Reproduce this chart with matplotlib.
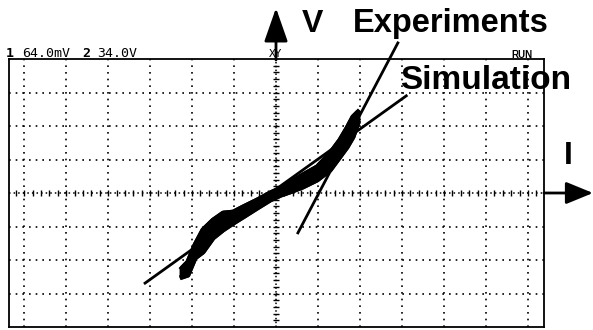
import numpy as np
import matplotlib
matplotlib.use("Agg")
import matplotlib.pyplot as plt
from matplotlib.transforms import Affine2D

# measured trace (oscilloscope divisions): current I on x, voltage V on y
exp_I = [-2.24, -2.10, -1.93, -1.74, -1.50, -1.26, -1.02, -0.79, -0.45, -0.14,
         0.12, 0.33, 0.64, 0.98, 1.29, 1.52, 1.69, 1.83, 1.95]
exp_V_upper = [-2.24, -2.06, -1.55, -1.10, -0.81, -0.60, -0.57, -0.42, -0.21, 0.00,
               0.15, 0.30, 0.54, 0.78, 1.19, 1.58, 1.94, 2.27, 2.42]
exp_V_lower = [-2.51, -2.45, -1.94, -1.76, -1.34, -1.10, -0.90, -0.72, -0.45, -0.21,
               -0.06, 0.03, 0.18, 0.39, 0.69, 1.08, 1.37, 1.67, 2.09]

# simulated characteristic (straight line)
sim_I = [-3.12, 3.10]
sim_V = [-2.69, 2.90]

# pointer line from the "Experiments" label
ptr_I = [2.90, 0.52]
ptr_V = [4.48, -1.19]

W, H = 593, 330
fig = plt.figure(figsize=(W / 100, H / 100), dpi=100)
ax = fig.add_axes([9 / W, 3 / H, 535 / W, 268 / H])
ax.set_xlim(-6.36, 6.38)
ax.set_ylim(-4, 4)
ax.set_xticks([])
ax.set_yticks([])
for s in ax.spines.values():
    s.set_linewidth(1.3)
    s.set_color("black")

# pixel coords of the picture (origin top-left)
px = Affine2D().scale(1 / W, -1 / H).translate(0, 1) + fig.transFigure

# graticule
dots = (0, (1, 3))
for x in range(-6, 7):
    if x != 0:
        ax.axvline(x, color="black", lw=1.2, ls=dots)
for y in range(-3, 4):
    if y != 0:
        ax.axhline(y, color="black", lw=1.2, ls=dots)
ax.axvline(0, color="black", lw=1.1, ls=(0, (1, 1.5)))
ax.axhline(0, color="black", lw=1.1, ls=(0, (1, 2)))
tx = np.arange(-31, 32) / 5
ty = np.arange(-19, 20) / 5
ax.plot(tx, np.zeros_like(tx), ls="none", marker="|", ms=4.5, mew=1, color="black")
ax.plot(np.zeros_like(ty), ty, ls="none", marker="_", ms=5, mew=1, color="black")

# experimental band
band_I = exp_I + exp_I[::-1]
band_V = exp_V_upper + exp_V_lower[::-1]
ax.fill(band_I, band_V, color="black", lw=3.5, joinstyle="round")
ax.plot(exp_I, exp_V_upper, color="black", lw=3.5, solid_capstyle="projecting")
ax.plot(exp_I, exp_V_lower, color="black", lw=3.5, solid_capstyle="projecting")

# simulation line and pointer
ax.plot(sim_I, sim_V, color="black", lw=2)
ax.plot(ptr_I, ptr_V, color="black", lw=2, clip_on=False)

# axis arrows
ax.annotate("", xy=(276, 8), xytext=(276, 60), xycoords=px, textcoords=px,
            arrowprops=dict(arrowstyle="-|>,head_length=0.8,head_width=0.28",
                            mutation_scale=26, lw=2, color="black",
                            shrinkA=0, shrinkB=0))
ax.annotate("", xy=(593, 193), xytext=(544, 193), xycoords=px, textcoords=px,
            arrowprops=dict(arrowstyle="-|>,head_length=0.83,head_width=0.34",
                            mutation_scale=20, lw=2, color="black",
                            shrinkA=0, shrinkB=0))

# labels
big = dict(family="Liberation Sans", weight="bold", transform=px,
           va="baseline", ha="left")
fig.text(302, 32, "V", fontsize=23, **big)
fig.text(353, 32, "Experiments", fontsize=23.5, **big)
fig.text(400, 89, "Simulation", fontsize=24, **big)
fig.text(564, 164, "I", fontsize=23, **big)

mono = dict(family="DejaVu Sans Mono", fontsize=9.5, transform=px, va="baseline", ha="left")
fig.text(6, 57, "1", weight="bold", **mono)
fig.text(22, 57, "64.0mV", **mono)
fig.text(82, 57, "2", weight="bold", **mono)
fig.text(97, 57, "34.0V", **mono)
fig.text(276, 57, "XY", family="DejaVu Sans Mono", fontsize=8, transform=px,
         va="baseline", ha="center")
fig.text(522, 58, "RUN", family="Liberation Sans", weight="bold", fontsize=7,
         transform=px, va="baseline", ha="center")

fig.savefig("out.png", dpi=100)
